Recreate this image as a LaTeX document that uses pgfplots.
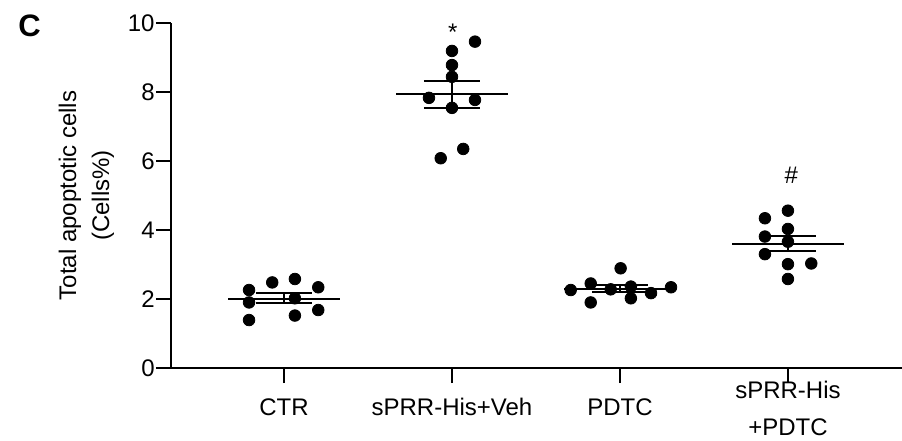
\documentclass[border=0pt]{standalone}
\usepackage{fontspec}
\setmainfont{Liberation Sans}
\usepackage{pgfplots}
\pgfplotsset{compat=1.18}

\begin{document}
\begin{tikzpicture}
\useasboundingbox (-85.5bp,-36.5bp) rectangle (365.5bp,184bp);
\begin{axis}[
  scale only axis,
  width=365.5bp, height=172.5bp,
  xmin=-0.6726, xmax=3.679, ymin=0, ymax=10,
  axis x line=bottom, axis y line=left,
  axis line style={-, line width=1bp, black},
  every tick/.style={black, line width=1bp},
  tick align=outside, major tick length=7.5bp,
  xtick={0,1,2,3},
  xticklabels={CTR, sPRR-His+Veh, PDTC, {\begin{tabular}{@{}c@{}}\rule{0pt}{14.3bp}sPRR-His\\[4.3bp]+PDTC\end{tabular}}},
  ytick={0,2,4,6,8,10},
  yticklabels={0,2,4,6,8,10},
  tick label style={font=\fontsize{12bp}{14bp}\selectfont},
  xticklabel style={anchor=center, align=center, yshift=-12bp},
  yticklabel style={inner sep=0.5bp},
  ylabel={Total apoptotic cells\\(Cells\%)},
  ylabel style={at={(axis description cs:-0.1156,0.5)}, anchor=center, align=center,
    font=\fontsize{12bp}{16.5bp}\selectfont},
  clip=false,
]
% individual values
\addplot[only marks, mark=*, mark size=2.9bp, black] coordinates {
  (-0.208,2.26) (-0.208,1.90) (-0.208,1.39) (-0.070,2.48) (0.065,2.58)
  (0.065,2.02) (0.065,1.52) (0.204,2.34) (0.204,1.68)
  (1,9.19) (1,8.78) (1,8.44) (0.863,7.83) (1.137,9.46)
  (1.137,7.77) (1,7.54) (0.933,6.08) (1.067,6.35)
  (1.707,2.26) (1.826,2.45) (1.826,1.90) (1.945,2.28) (2.004,2.89)
  (2.065,2.36) (2.065,2.02) (2.185,2.17) (2.304,2.34)
  (2.863,4.34) (2.863,3.81) (2.863,3.30) (3,4.56) (3,4.03)
  (3,3.66) (3,3.01) (3,2.58) (3.139,3.03)
};
% mean lines
\addplot[black, line width=1bp] coordinates {(-0.333,2.01) (0.333,2.01)};
\addplot[black, line width=1bp] coordinates {(0.667,7.93) (1.333,7.93)};
\addplot[black, line width=1bp] coordinates {(1.667,2.30) (2.333,2.30)};
\addplot[black, line width=1bp] coordinates {(2.667,3.59) (3.333,3.59)};
% SEM
\addplot[black, line width=1bp] coordinates {(-0.167,2.16) (0.167,2.16)};
\addplot[black, line width=1bp] coordinates {(-0.167,1.875) (0.167,1.875)};
\addplot[black, line width=1bp] coordinates {(0,1.875) (0,2.16)};
\addplot[black, line width=1bp] coordinates {(0.833,8.33) (1.167,8.33)};
\addplot[black, line width=1bp] coordinates {(0.833,7.54) (1.167,7.54)};
\addplot[black, line width=1bp] coordinates {(1,7.54) (1,8.33)};
\addplot[black, line width=1bp] coordinates {(1.833,2.40) (2.167,2.40)};
\addplot[black, line width=1bp] coordinates {(1.833,2.20) (2.167,2.20)};
\addplot[black, line width=1bp] coordinates {(2,2.20) (2,2.40)};
\addplot[black, line width=1bp] coordinates {(2.833,3.83) (3.167,3.83)};
\addplot[black, line width=1bp] coordinates {(2.833,3.39) (3.167,3.39)};
\addplot[black, line width=1bp] coordinates {(3,3.39) (3,3.83)};
% significance marks and panel letter
\node[anchor=base, font=\fontsize{12bp}{14bp}\selectfont] at (axis cs:1.005,9.48) {*};
\node[anchor=base, font=\fontsize{12bp}{14bp}\selectfont] at (axis cs:3.02,5.35) {\#};
\node[anchor=center, font=\bfseries\fontsize{15.5bp}{18bp}\selectfont] at (axis description cs:-0.1936,0.9913) {C};
\end{axis}
\end{tikzpicture}
\end{document}
